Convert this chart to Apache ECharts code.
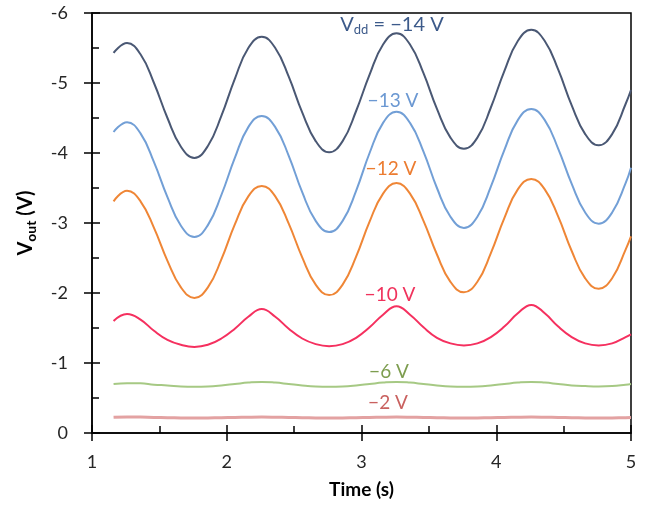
<!DOCTYPE html>
<html>
<head>
<meta charset="utf-8">
<script src="https://cdn.jsdelivr.net/npm/echarts@6/dist/echarts.min.js"></script>
<style>
  html, body { margin: 0; padding: 0; background: #fff; }
  #main { width: 648px; height: 507px; }
</style>
</head>
<body>
<div id="main"></div>
<script>
var myChart = echarts.init(document.getElementById('main'));

// time samples (s)
var time = [1.16, 1.26, 1.36, 1.46, 1.56, 1.66, 1.76, 1.86, 1.96, 2.06,
            2.16, 2.26, 2.36, 2.46, 2.56, 2.66, 2.76, 2.86, 2.96, 3.06,
            3.16, 3.26, 3.36, 3.46, 3.56, 3.66, 3.76, 3.86, 3.96, 4.06,
            4.16, 4.26, 4.36, 4.46, 4.56, 4.66, 4.76, 4.86, 4.96, 5.00];

// Vout (V) for each Vdd
var vdd14 = [-5.43, -5.57, -5.41, -5.00, -4.50, -4.09, -3.93, -4.10, -4.53, -5.06,
             -5.50, -5.66, -5.50, -5.09, -4.58, -4.17, -4.01, -4.17, -4.60, -5.12,
             -5.55, -5.71, -5.55, -5.14, -4.63, -4.22, -4.06, -4.22, -4.65, -5.17,
             -5.60, -5.76, -5.60, -5.19, -4.68, -4.27, -4.11, -4.27, -4.70, -4.90];
var vdd13 = [-4.30, -4.44, -4.28, -3.87, -3.37, -2.96, -2.80, -2.97, -3.40, -3.93,
             -4.37, -4.53, -4.37, -3.96, -3.44, -3.03, -2.87, -3.03, -3.46, -4.00,
             -4.43, -4.59, -4.43, -4.02, -3.50, -3.09, -2.93, -3.09, -3.52, -4.04,
             -4.47, -4.63, -4.47, -4.06, -3.56, -3.15, -2.99, -3.15, -3.57, -3.79];
var vdd12 = [-3.31, -3.46, -3.31, -2.93, -2.46, -2.08, -1.93, -2.08, -2.48, -2.98,
             -3.38, -3.53, -3.38, -2.99, -2.51, -2.12, -1.97, -2.12, -2.52, -3.02,
             -3.42, -3.57, -3.42, -3.03, -2.55, -2.16, -2.01, -2.16, -2.57, -3.07,
             -3.48, -3.63, -3.48, -3.09, -2.60, -2.21, -2.06, -2.21, -2.62, -2.81];
var vdd10 = [-1.60, -1.70, -1.62, -1.46, -1.33, -1.26, -1.23, -1.26, -1.35, -1.49,
             -1.66, -1.77, -1.66, -1.49, -1.35, -1.27, -1.24, -1.27, -1.36, -1.51,
             -1.69, -1.81, -1.69, -1.51, -1.36, -1.28, -1.25, -1.28, -1.37, -1.52,
             -1.71, -1.83, -1.71, -1.52, -1.37, -1.28, -1.25, -1.28, -1.37, -1.41];
var vdd6 = [-0.70, -0.71, -0.71, -0.69, -0.68, -0.665, -0.66, -0.665, -0.68, -0.70,
            -0.72, -0.73, -0.72, -0.70, -0.68, -0.665, -0.66, -0.665, -0.68, -0.70,
            -0.72, -0.73, -0.72, -0.70, -0.68, -0.665, -0.66, -0.665, -0.68, -0.70,
            -0.72, -0.73, -0.72, -0.70, -0.68, -0.67, -0.665, -0.67, -0.69, -0.70];
var vdd2 = [-0.225, -0.23, -0.228, -0.222, -0.218, -0.215, -0.214, -0.215, -0.218, -0.222,
            -0.226, -0.228, -0.226, -0.222, -0.218, -0.215, -0.214, -0.215, -0.218, -0.222,
            -0.226, -0.228, -0.226, -0.222, -0.218, -0.215, -0.214, -0.215, -0.218, -0.222,
            -0.226, -0.228, -0.226, -0.222, -0.218, -0.215, -0.214, -0.215, -0.218, -0.22];

var FONT = 'Lato, "Noto Sans", sans-serif';

var pairs = function (ys) {
    return time.map(function (t, i) { return [t, ys[i]]; });
};

var lineSeries = function (name, ys, color, width) {
    return {
        name: name,
        type: 'line',
        data: pairs(ys),
        smooth: 0.45,
        symbol: 'none',
        lineStyle: { color: color, width: width },
        z: 3
    };
};

// curve labels
var labelText = function (text, x, y, color) {
    return {
        type: 'text',
        x: x,
        y: y,
        z: 10,
        style: {
            text: text,
            fill: color,
            font: '19px ' + FONT,
            textAlign: 'center',
            textVerticalAlign: 'middle'
        }
    };
};

var option = {
    animation: false,
    backgroundColor: '#fff',
    grid: {
        left: 92, right: 17, top: 13, bottom: 74,
        show: true,
        borderColor: '#000',
        borderWidth: 1.5
    },
    xAxis: [{
        type: 'value',
        min: 1, max: 5, interval: 1,
        position: 'bottom',
        name: 'Time (s)',
        nameLocation: 'middle',
        nameGap: 47,
        nameTextStyle: { fontFamily: FONT, fontSize: 19, fontWeight: 'bold', color: '#000' },
        axisLine: { lineStyle: { color: '#000', width: 1.5 } },
        axisTick: { length: 8, lineStyle: { color: '#000', width: 1.5 } },
        axisLabel: { margin: 20, fontFamily: FONT, fontSize: 18, color: '#262626' },
        splitLine: { show: false }
    }, {
        type: 'value',
        min: 1, max: 5, interval: 1,
        position: 'bottom',
        axisLine: { show: false },
        axisTick: { inside: true, length: 8, lineStyle: { color: '#000', width: 1.5 } },
        minorTick: { show: true, splitNumber: 2, length: 7, lineStyle: { color: '#000', width: 1.5 } },
        axisLabel: { show: false },
        splitLine: { show: false }
    }],
    yAxis: [{
        type: 'value',
        min: -6, max: 0, interval: 1,
        inverse: true,
        position: 'left',
        name: '{b|V}{s|out}{b| (V)}',
        nameLocation: 'middle',
        nameGap: 54,
        nameTextStyle: {
            color: '#000',
            rich: {
                b: { fontFamily: FONT, fontSize: 20, fontWeight: 'bold', color: '#000' },
                s: { fontFamily: FONT, fontSize: 14, fontWeight: 'bold', color: '#000', padding: [10, 0, 0, 0] }
            }
        },
        axisLine: { lineStyle: { color: '#000', width: 1.5 } },
        axisTick: { length: 8, lineStyle: { color: '#000', width: 1.5 } },
        axisLabel: { margin: 24, fontFamily: FONT, fontSize: 18, color: '#262626' },
        splitLine: { show: false }
    }, {
        type: 'value',
        min: -6, max: 0, interval: 1,
        inverse: true,
        position: 'left',
        axisLine: { show: false },
        axisTick: { inside: true, length: 8, lineStyle: { color: '#000', width: 1.5 } },
        minorTick: { show: true, splitNumber: 2, length: 7, lineStyle: { color: '#000', width: 1.5 } },
        axisLabel: { show: false },
        splitLine: { show: false }
    }],
    series: [
        lineSeries('-14 V', vdd14, '#4a5874', 2),
        lineSeries('-13 V', vdd13, '#729fd6', 2),
        lineSeries('-12 V', vdd12, '#ef8636', 2),
        lineSeries('-10 V', vdd10, '#f5305f', 2),
        lineSeries('-6 V', vdd6, '#a6c984', 2),
        lineSeries('-2 V', vdd2, '#e3a2a2', 3)
    ],
    graphic: [
        {
            type: 'text',
            x: 392, y: 25, z: 10,
            style: {
                text: '{a|V}{d|dd}{a| = \u221214 V}',
                textAlign: 'center',
                textVerticalAlign: 'middle',
                rich: {
                    a: { fontFamily: FONT, fontSize: 20, fill: '#3c5a8a' },
                    d: { fontFamily: FONT, fontSize: 13, fill: '#3c5a8a', padding: [9, 0, 0, 0] }
                }
            }
        },
        labelText('\u221213 V', 393, 101, '#6b98d2'),
        labelText('\u221212 V', 391, 169, '#ec7c30'),
        labelText('\u221210 V', 390, 295, '#f0325c'),
        labelText('\u22126 V', 389, 372, '#7d9d4f'),
        labelText('\u22122 V', 388, 403, '#c9615f')
    ]
};

myChart.setOption(option);
</script>
</body>
</html>
